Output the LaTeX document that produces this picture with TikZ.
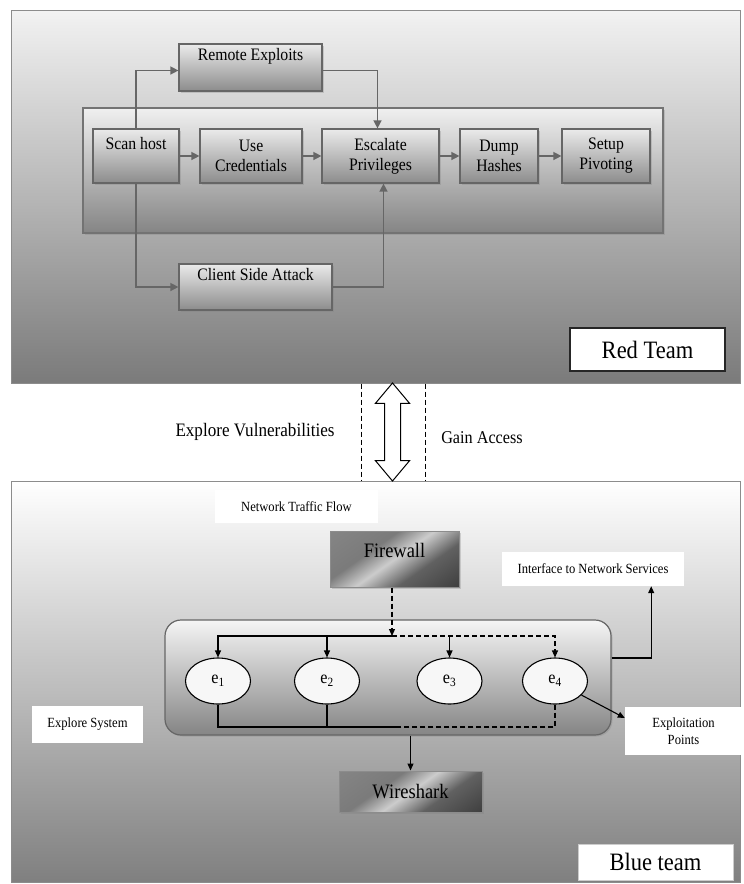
\documentclass[tikz,border=0pt]{standalone}
\usepackage{fontspec}
\setmainfont[FakeStretch=0.9]{Liberation Serif}
\usetikzlibrary{arrows.meta,shapes.arrows,shapes.geometric,shadows}

\pgfdeclareverticalshading{metal}{100bp}{color(0bp)=(black!85); color(36bp)=(black!62); color(50bp)=(black!20); color(62bp)=(black!52); color(100bp)=(black!45)}

\tikzset{
  panel/.style={draw=black!45, line width=1pt, inner sep=0pt},
  stage/.style={draw=black!60, line width=1.2pt, top color=black!8, bottom color=black!45,
    align=center, inner sep=0pt, font=\fontsize{17.5}{20}\selectfont,
    drop shadow={shadow xshift=1.5pt, shadow yshift=-1.5pt, opacity=.3}},
  tag/.style={fill=white, inner sep=0pt, align=center, font=\fontsize{14}{17}\selectfont},
  teamtag/.style={fill=white, inner sep=0pt, font=\fontsize{25}{28}\selectfont},
  tool/.style={draw=black!45, line width=1pt, shading=metal, shading angle=35, inner sep=0pt,
    font=\fontsize{20.5}{24}\selectfont, drop shadow={shadow xshift=1.5pt, shadow yshift=-1.5pt, opacity=.3}},
  endpoint/.style={ellipse, draw, line width=1.1pt, fill=black!3, inner sep=0pt,
    minimum width=65pt, minimum height=46pt, font=\fontsize{18}{20}\selectfont},
  redarrow/.style={draw=black!60, line width=1.4pt, -{Triangle[length=8pt,width=8pt]}},
  blarrow/.style={draw=black, line width=1.1pt, -{Triangle[length=7pt,width=6pt]}},
  blline/.style={draw=black, line width=1.1pt},
  bldash/.style={dash pattern=on 5pt off 3pt},
  guide/.style={draw=black, line width=.8pt, dash pattern=on 5pt off 3pt}
}

\begin{document}
\begin{tikzpicture}[x=1pt, y=-1pt]
\useasboundingbox (0,0) rectangle (744,884);

% red team side
\node [panel, top color=black!5, bottom color=black!52, minimum width=729pt, minimum height=373pt] (red) at (375.5,196.5) {};
\node [panel, draw=black!55, line width=1.2pt, top color=black!6, bottom color=black!48, minimum width=580pt, minimum height=125pt,
  drop shadow={shadow xshift=1.5pt, shadow yshift=-1.5pt, opacity=.3}] (chain) at (373,170.5) {};

\node [stage, minimum width=86pt, minimum height=54pt] (scan) at (136,156) {Scan host\\\strut};
\node [stage, minimum width=102pt, minimum height=54pt] (cred) at (251,156) {Use\\Credentials};
\node [stage, minimum width=117pt, minimum height=54pt] (escal) at (380.5,156) {Escalate\\Privileges};
\node [stage, minimum width=78pt, minimum height=54pt] (dump) at (499,156) {Dump\\Hashes};
\node [stage, minimum width=88pt, minimum height=54pt] (pivot) at (606,156) {Setup\\Pivoting};
\node [stage, minimum width=143pt, minimum height=47pt] (remote) at (250.5,67.5) {Remote Exploits\\\strut};
\node [stage, minimum width=153pt, minimum height=46pt] (client) at (255.5,287) {Client Side Attack\\\strut};

\draw [redarrow] (scan) -- (cred);
\draw [redarrow] (cred) -- (escal);
\draw [redarrow] (escal) -- (dump);
\draw [redarrow] (dump) -- (pivot);
\draw [redarrow] (scan.north) |- ([yshift=-3pt]remote.west);
\draw [redarrow] ([yshift=-3pt]remote.east) -| ([xshift=-3pt]escal.north);
\draw [redarrow] (scan.south) |- (client.west);
\draw [redarrow] (client.east) -| ([xshift=3pt]escal.south);

\node [teamtag, draw=black!85, line width=1.3pt, minimum width=155pt, minimum height=43pt] (redtag) at (647.5,349.5) {Red Team};

% between the teams
\node [panel, top color=white, bottom color=black!50, minimum width=729pt, minimum height=401pt] (blue) at (375.5,681.5) {};
\draw [guide] ([xshift=-14.5pt]red.south) -- ([xshift=-14.5pt]blue.north);
\draw [guide] ([xshift=49.5pt]red.south) -- ([xshift=49.5pt]blue.north);
\node [double arrow, draw, line width=1pt, fill=white, rotate=90, minimum height=98pt, inner sep=7.5pt,
  double arrow head extend=9pt, double arrow tip angle=80] (access) at (392.5,432) {};
\node [font=\fontsize{19}{22}\selectfont] (vuln) at (255,432) {Explore Vulnerabilities};
\node [font=\fontsize{18}{21}\selectfont] (gain) at (482,438) {Gain Access};

% blue team side
\node [tag, minimum width=163pt, minimum height=33pt] (traffic) at (296.5,506.5) {Network Traffic Flow};
\node [tool, minimum width=129pt, minimum height=56pt, text depth=18pt] (fw) at (394.5,559) {Firewall};
\node [tag, minimum width=182pt, minimum height=34pt] (iface) at (593,569) {Interface to Network Services};
\node [panel, draw=black!60, line width=1.2pt, rounded corners=16pt, top color=black!4, bottom color=black!48,
  minimum width=446pt, minimum height=115pt, drop shadow={shadow xshift=1.5pt, shadow yshift=-1.5pt, opacity=.3}] (hub) at (388,677.5) {};

\node [endpoint] (e1) at (218,681) {e\textsubscript{1}};
\node [endpoint] (e2) at (327,681) {e\textsubscript{2}};
\node [endpoint] (e3) at (449.5,681) {e\textsubscript{3}};
\node [endpoint] (e4) at (555,681) {e\textsubscript{4}};

\node [tag, minimum width=117pt, minimum height=48pt] (expl) at (683.5,731) {Exploitation\\Points};
\node [tag, minimum width=111pt, minimum height=37pt] (explore) at (87.5,724.5) {Explore System};
\node [tool, minimum width=143pt, minimum height=41pt] (wire) at (410.5,791.5) {Wireshark};
\node [teamtag, draw=black!20, line width=.6pt, minimum width=155pt, minimum height=36pt] (bluetag) at (655.5,862) {Blue team};

\coordinate (split) at (392,636);
\coordinate (merge) at (400,727);

\draw [blarrow, bldash] (fw.south -| split) -- (split);
\draw [blarrow] (split) -| (e1.north);
\draw [blarrow, bldash] (split) -| (e4.north);
\draw [blarrow] (e2.north |- split) -- (e2.north);
\draw [blarrow] (e3.north |- split) -- (e3.north);

\draw [blline] (e1.south) |- (merge);
\draw [blline] (e2.south) -- (e2.south |- merge);
\draw [blline, bldash] (e4.south) |- (merge);

\draw [blarrow] (wire.north |- hub.south) -- (wire.north);
\draw [blarrow] ([yshift=19.5pt]hub.east) -| ([xshift=-33pt]iface.south east);
\draw [blarrow] (e4.-28) -- ([yshift=13pt]expl.west);

\end{tikzpicture}
\end{document}
